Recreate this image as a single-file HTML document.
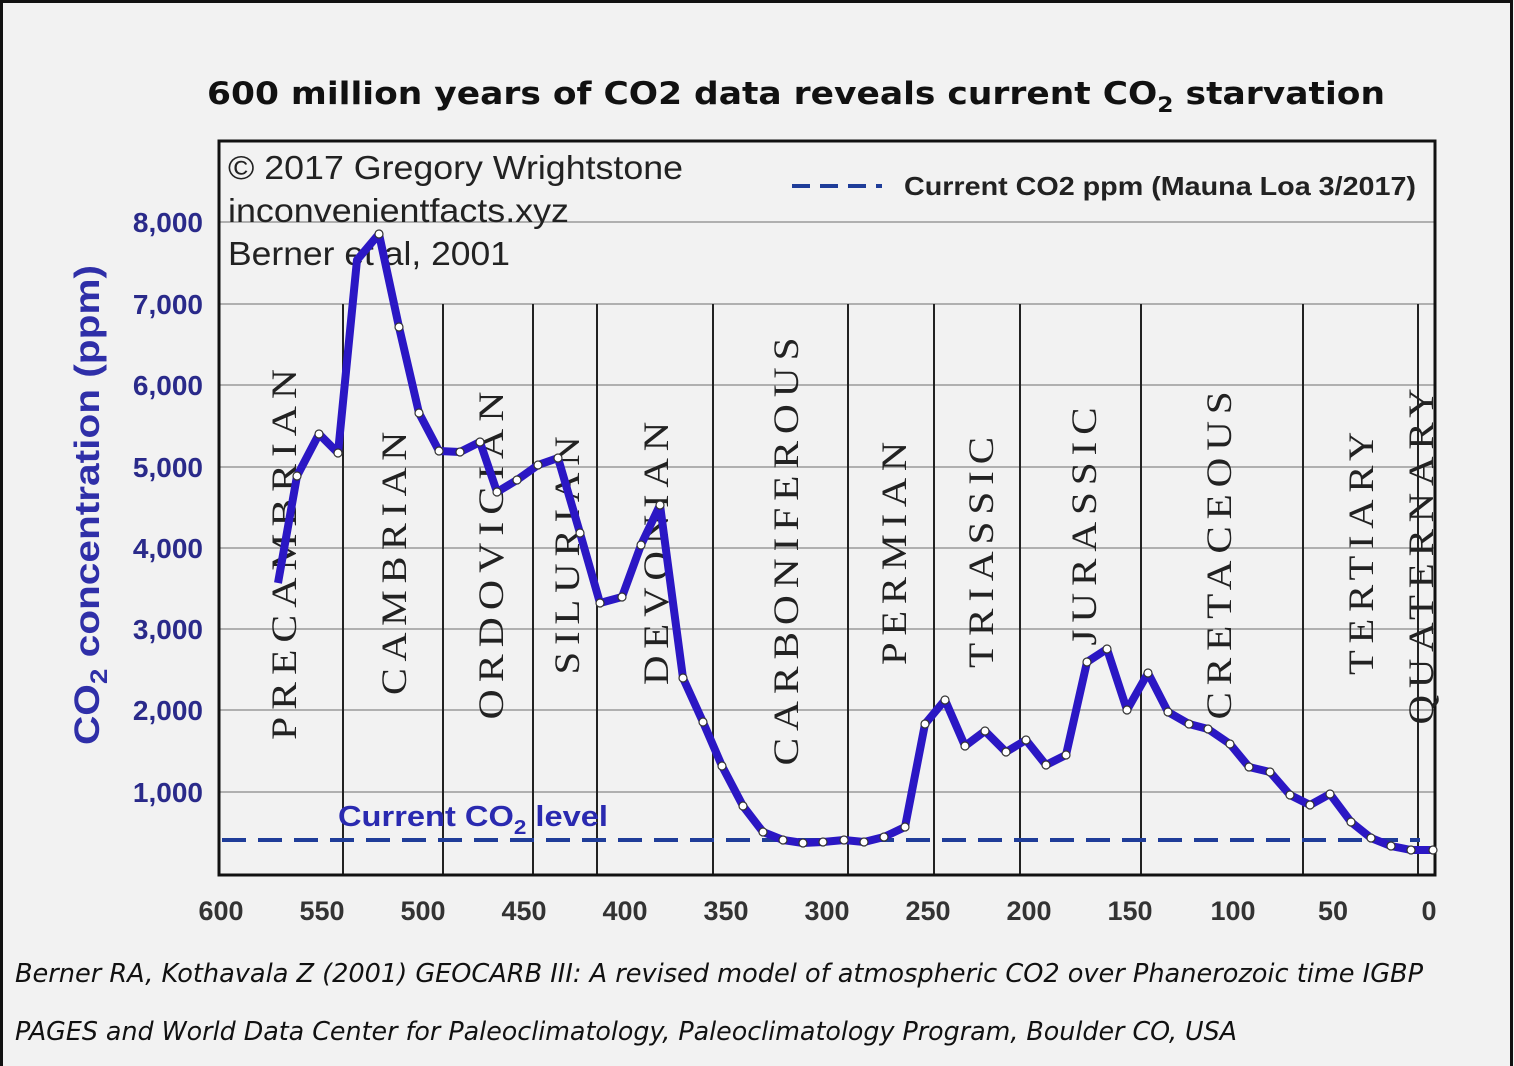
<!DOCTYPE html>
<html><head><meta charset="utf-8"><style>
html,body{margin:0;padding:0;background:#f2f2f2}
svg{display:block}
</style></head><body>
<svg width="1514" height="1066" viewBox="0 0 1514 1066" xmlns="http://www.w3.org/2000/svg">
<rect x="0" y="0" width="1514" height="1066" fill="#f2f2f2"/>
<rect x="1.5" y="1.5" width="1510" height="1070" fill="none" stroke="#111" stroke-width="3"/>
<text x="207" y="104" font-family="DejaVu Sans, sans-serif" font-weight="bold" font-size="31" fill="#111" textLength="1178" lengthAdjust="spacingAndGlyphs">600 million years of CO2 data reveals current CO<tspan font-size="21" dy="8">2</tspan><tspan dy="-8"> starvation</tspan></text>
<g stroke="#9a9a9a" stroke-width="1.5">
<line x1="219" y1="222" x2="1435" y2="222"/>
<line x1="219" y1="304" x2="1435" y2="304"/>
<line x1="219" y1="385" x2="1435" y2="385"/>
<line x1="219" y1="467" x2="1435" y2="467"/>
<line x1="219" y1="548" x2="1435" y2="548"/>
<line x1="219" y1="629" x2="1435" y2="629"/>
<line x1="219" y1="710" x2="1435" y2="710"/>
<line x1="219" y1="792" x2="1435" y2="792"/>
</g>
<g stroke="#222" stroke-width="2">
<line x1="343" y1="304" x2="343" y2="875"/>
<line x1="443" y1="304" x2="443" y2="875"/>
<line x1="533" y1="304" x2="533" y2="875"/>
<line x1="597" y1="304" x2="597" y2="875"/>
<line x1="713" y1="304" x2="713" y2="875"/>
<line x1="848" y1="304" x2="848" y2="875"/>
<line x1="934" y1="304" x2="934" y2="875"/>
<line x1="1020" y1="304" x2="1020" y2="875"/>
<line x1="1141" y1="304" x2="1141" y2="875"/>
<line x1="1303" y1="304" x2="1303" y2="875"/>
<line x1="1418" y1="304" x2="1418" y2="875"/>
</g>
<rect x="219" y="141" width="1216" height="734" fill="none" stroke="#111" stroke-width="3"/>
<g font-family="Liberation Serif, serif" font-size="36" fill="#222" letter-spacing="6">
<text transform="translate(296,551) rotate(-90)" text-anchor="middle" textLength="378" lengthAdjust="spacingAndGlyphs">PRECAMBRIAN</text>
<text transform="translate(406,560) rotate(-90)" text-anchor="middle" textLength="270" lengthAdjust="spacingAndGlyphs">CAMBRIAN</text>
<text transform="translate(503,552) rotate(-90)" text-anchor="middle" textLength="335" lengthAdjust="spacingAndGlyphs">ORDOVICIAN</text>
<text transform="translate(579,552) rotate(-90)" text-anchor="middle" textLength="245" lengthAdjust="spacingAndGlyphs">SILURIAN</text>
<text transform="translate(668,550) rotate(-90)" text-anchor="middle" textLength="270" lengthAdjust="spacingAndGlyphs">DEVONIAN</text>
<text transform="translate(798,548) rotate(-90)" text-anchor="middle" textLength="435" lengthAdjust="spacingAndGlyphs">CARBONIFEROUS</text>
<text transform="translate(906,550) rotate(-90)" text-anchor="middle" textLength="230" lengthAdjust="spacingAndGlyphs">PERMIAN</text>
<text transform="translate(993,549) rotate(-90)" text-anchor="middle" textLength="238" lengthAdjust="spacingAndGlyphs">TRIASSIC</text>
<text transform="translate(1096,523) rotate(-90)" text-anchor="middle" textLength="245" lengthAdjust="spacingAndGlyphs">JURASSIC</text>
<text transform="translate(1231,552) rotate(-90)" text-anchor="middle" textLength="335" lengthAdjust="spacingAndGlyphs">CRETACEOUS</text>
<text transform="translate(1373,550) rotate(-90)" text-anchor="middle" textLength="250" lengthAdjust="spacingAndGlyphs">TERTIARY</text>
<text transform="translate(1433,553) rotate(-90)" text-anchor="middle" textLength="343" lengthAdjust="spacingAndGlyphs">QUATERNARY</text>
</g>
<g font-family="Liberation Sans, sans-serif" font-size="33" fill="#222">
<text x="228" y="179" textLength="455" lengthAdjust="spacingAndGlyphs">© 2017 Gregory Wrightstone</text>
<text x="228" y="222" textLength="341" lengthAdjust="spacingAndGlyphs">inconvenientfacts.xyz</text>
<text x="228" y="265" textLength="282" lengthAdjust="spacingAndGlyphs">Berner et al, 2001</text>
</g>
<line x1="792" y1="186" x2="882" y2="186" stroke="#1f3d99" stroke-width="4" stroke-dasharray="18,10"/>
<text x="904" y="195" font-family="Liberation Sans, sans-serif" font-weight="bold" font-size="26" fill="#222" textLength="512" lengthAdjust="spacingAndGlyphs">Current CO2 ppm (Mauna Loa 3/2017)</text>
<line x1="222" y1="840" x2="1420" y2="840" stroke="#1f3d99" stroke-width="4" stroke-dasharray="24,12"/>
<text x="338" y="826" font-family="Liberation Sans, sans-serif" font-weight="bold" font-size="29" fill="#2a2ab0" textLength="270" lengthAdjust="spacingAndGlyphs">Current CO<tspan font-size="20" dy="8">2</tspan><tspan dy="-8"> level</tspan></text>
<polyline fill="none" stroke="#2b17c4" stroke-width="8" stroke-linejoin="round" points="278,583 297,476 319,434 338,453 357,260 379,234 399,327 419,413 439,451 460,452 480,442 497,492 517,480 538,465 558,458 580,533 600,603 622,597 641,545 660,505 683,678 703,722 722,766 743,806 763,832 783,840 803,843 823,842 844,840 864,842 884,837 905,827 925,724 945,700 965,746 985,731 1006,752 1026,740 1046,765 1066,755 1087,662 1107,649 1127,710 1148,673 1168,712 1189,724 1208,729 1230,744 1249,767 1270,772 1290,795 1310,805 1330,794 1351,822 1371,838 1391,846 1411,850 1433,850"/>
<g fill="#fff" stroke="#333" stroke-width="1.2">
<circle cx="297" cy="476" r="4"/><circle cx="319" cy="434" r="4"/><circle cx="338" cy="453" r="4"/><circle cx="379" cy="234" r="4"/><circle cx="399" cy="327" r="4"/><circle cx="419" cy="413" r="4"/><circle cx="439" cy="451" r="4"/><circle cx="460" cy="452" r="4"/><circle cx="480" cy="442" r="4"/><circle cx="497" cy="492" r="4"/><circle cx="517" cy="480" r="4"/><circle cx="538" cy="465" r="4"/><circle cx="558" cy="458" r="4"/><circle cx="580" cy="533" r="4"/><circle cx="600" cy="603" r="4"/><circle cx="622" cy="597" r="4"/><circle cx="641" cy="545" r="4"/><circle cx="660" cy="505" r="4"/><circle cx="683" cy="678" r="4"/><circle cx="703" cy="722" r="4"/><circle cx="722" cy="766" r="4"/><circle cx="743" cy="806" r="4"/><circle cx="763" cy="832" r="4"/><circle cx="783" cy="840" r="4"/><circle cx="803" cy="843" r="4"/><circle cx="823" cy="842" r="4"/><circle cx="844" cy="840" r="4"/><circle cx="864" cy="842" r="4"/><circle cx="884" cy="837" r="4"/><circle cx="905" cy="827" r="4"/><circle cx="925" cy="724" r="4"/><circle cx="945" cy="700" r="4"/><circle cx="965" cy="746" r="4"/><circle cx="985" cy="731" r="4"/><circle cx="1006" cy="752" r="4"/><circle cx="1026" cy="740" r="4"/><circle cx="1046" cy="765" r="4"/><circle cx="1066" cy="755" r="4"/><circle cx="1087" cy="662" r="4"/><circle cx="1107" cy="649" r="4"/><circle cx="1127" cy="710" r="4"/><circle cx="1148" cy="673" r="4"/><circle cx="1168" cy="712" r="4"/><circle cx="1189" cy="724" r="4"/><circle cx="1208" cy="729" r="4"/><circle cx="1230" cy="744" r="4"/><circle cx="1249" cy="767" r="4"/><circle cx="1270" cy="772" r="4"/><circle cx="1290" cy="795" r="4"/><circle cx="1310" cy="805" r="4"/><circle cx="1330" cy="794" r="4"/><circle cx="1351" cy="822" r="4"/><circle cx="1371" cy="838" r="4"/><circle cx="1391" cy="846" r="4"/><circle cx="1411" cy="850" r="4"/><circle cx="1433" cy="850" r="4"/>
</g>
<g font-family="Liberation Sans, sans-serif" font-weight="bold" font-size="28" fill="#2a2a8a" text-anchor="end">
<text x="203" y="232">8,000</text><text x="203" y="314">7,000</text><text x="203" y="395">6,000</text><text x="203" y="477">5,000</text><text x="203" y="558">4,000</text><text x="203" y="639">3,000</text><text x="203" y="720">2,000</text><text x="203" y="802">1,000</text>
</g>
<text transform="translate(99,505) rotate(-90)" text-anchor="middle" font-family="Liberation Sans, sans-serif" font-weight="bold" font-size="35" fill="#2f2fa8" textLength="480" lengthAdjust="spacingAndGlyphs">CO<tspan font-size="24" dy="8">2</tspan><tspan dy="-8"> concentration (ppm)</tspan></text>
<g font-family="Liberation Sans, sans-serif" font-weight="bold" font-size="27" fill="#333" text-anchor="middle">
<text x="221" y="920">600</text><text x="322" y="920">550</text><text x="423" y="920">500</text><text x="524" y="920">450</text><text x="625" y="920">400</text><text x="726" y="920">350</text><text x="827" y="920">300</text><text x="928" y="920">250</text><text x="1029" y="920">200</text><text x="1130" y="920">150</text><text x="1233" y="920">100</text><text x="1333" y="920">50</text><text x="1429" y="920">0</text>
</g>
<g font-family="DejaVu Sans Condensed, DejaVu Sans, sans-serif" font-style="italic" font-size="26" fill="#111">
<text x="15" y="982" textLength="1408" lengthAdjust="spacingAndGlyphs">Berner RA, Kothavala Z (2001) GEOCARB III: A revised model of atmospheric CO2 over Phanerozoic time IGBP</text>
<text x="15" y="1040" textLength="1222" lengthAdjust="spacingAndGlyphs">PAGES and World Data Center for Paleoclimatology, Paleoclimatology Program, Boulder CO, USA</text>
</g>
</svg>
</body></html>
